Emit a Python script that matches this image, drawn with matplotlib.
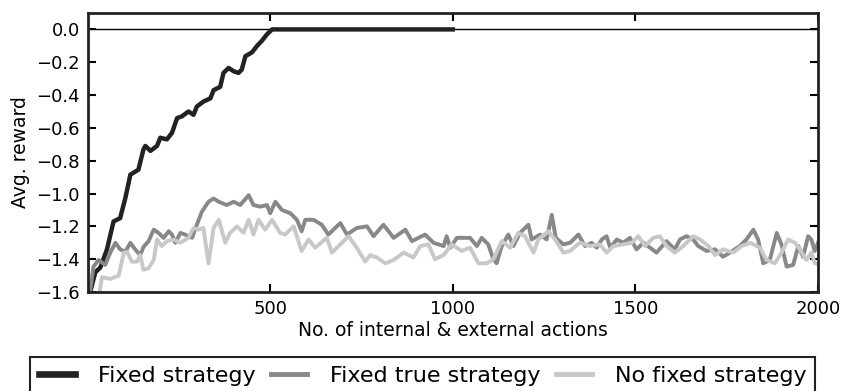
import matplotlib
matplotlib.use("Agg")
import matplotlib.pyplot as plt

# Fixed strategy (black), reaches 0 and stays there up to 1000
fixed_x = [7, 21, 35, 53, 71, 89, 103, 117, 139, 153, 158, 172, 190, 199, 217, 231,
           245, 258, 276, 290, 299, 317, 336, 345, 363, 372, 386, 400, 413, 422,
           432, 450, 464, 477, 491, 505, 520, 1000]
fixed_y = [-1.60, -1.48, -1.45, -1.34, -1.17, -1.15, -1.03, -0.885, -0.855, -0.73,
           -0.71, -0.74, -0.71, -0.66, -0.67, -0.63, -0.54, -0.53, -0.50, -0.52,
           -0.47, -0.44, -0.42, -0.37, -0.35, -0.265, -0.235, -0.255, -0.265, -0.245,
           -0.163, -0.14, -0.10, -0.07, -0.03, 0.0, 0.0, 0.0]

# Fixed true strategy (dark grey)
true_x = [7, 16, 30, 48, 62, 76, 89, 103, 117, 130, 144, 153, 167, 181, 194, 208,
          222, 231, 240, 254, 267, 286, 299, 313, 331, 345, 359, 381, 400, 418, 441,
          454, 473, 491, 500, 514, 532, 555, 573, 586, 596, 619, 641, 659, 692, 710,
          737, 765, 783, 810, 838, 870, 888, 924, 947, 975, 983, 993, 1011, 1047,
          1066, 1079, 1097, 1111, 1120, 1134, 1152, 1166, 1184, 1207, 1216, 1239,
          1257, 1271, 1282, 1303, 1321, 1344, 1362, 1380, 1394, 1408, 1421, 1431,
          1449, 1467, 1485, 1503, 1522, 1540, 1558, 1585, 1608, 1622, 1640, 1658,
          1672, 1695, 1718, 1740, 1759, 1786, 1804, 1823, 1836, 1850, 1868, 1887,
          1900, 1914, 1932, 1946, 1959, 1973, 1982, 1991, 2000]
true_y = [-1.59, -1.445, -1.405, -1.435, -1.36, -1.30, -1.34, -1.355, -1.30, -1.34,
          -1.375, -1.325, -1.29, -1.22, -1.24, -1.27, -1.23, -1.25, -1.30, -1.24,
          -1.25, -1.27, -1.19, -1.11, -1.05, -1.03, -1.05, -1.07, -1.05, -1.07,
          -1.01, -1.07, -1.08, -1.07, -1.12, -1.05, -1.10, -1.12, -1.16, -1.23,
          -1.16, -1.16, -1.19, -1.25, -1.18, -1.25, -1.21, -1.20, -1.26, -1.19,
          -1.27, -1.22, -1.29, -1.25, -1.30, -1.32, -1.26, -1.33, -1.27, -1.27,
          -1.32, -1.27, -1.31, -1.40, -1.425, -1.32, -1.25, -1.32, -1.24, -1.19,
          -1.28, -1.25, -1.28, -1.13, -1.27, -1.31, -1.30, -1.25, -1.32, -1.30,
          -1.33, -1.28, -1.26, -1.33, -1.28, -1.30, -1.27, -1.34, -1.30, -1.33,
          -1.36, -1.29, -1.34, -1.28, -1.26, -1.28, -1.32, -1.35, -1.34, -1.385,
          -1.36, -1.32, -1.28, -1.22, -1.28, -1.425, -1.405, -1.24, -1.31, -1.445,
          -1.435, -1.32, -1.385, -1.26, -1.28, -1.35, -1.30]

# No fixed strategy (light grey)
none_x = [33, 39, 62, 85, 99, 108, 121, 135, 144, 153, 167, 181, 190, 203, 217, 235,
          254, 276, 290, 304, 317, 331, 345, 359, 377, 390, 409, 427, 441, 454, 468,
          486, 505, 527, 541, 564, 586, 605, 623, 655, 669, 692, 714, 737, 760, 774,
          792, 815, 838, 865, 892, 911, 933, 951, 975, 997, 1024, 1047, 1070, 1093,
          1111, 1134, 1157, 1179, 1198, 1221, 1234, 1262, 1280, 1303, 1321, 1348,
          1376, 1403, 1421, 1440, 1467, 1490, 1508, 1526, 1549, 1567, 1585, 1608,
          1631, 1658, 1677, 1700, 1718, 1740, 1768, 1791, 1814, 1841, 1859, 1882,
          1900, 1918, 1937, 1950, 1968, 1982, 1991, 2000]
none_y = [-1.60, -1.51, -1.52, -1.50, -1.36, -1.355, -1.415, -1.415, -1.375, -1.465,
          -1.455, -1.405, -1.28, -1.32, -1.29, -1.28, -1.30, -1.27, -1.21, -1.22,
          -1.21, -1.425, -1.21, -1.16, -1.30, -1.24, -1.20, -1.24, -1.16, -1.25,
          -1.16, -1.22, -1.16, -1.24, -1.25, -1.20, -1.35, -1.28, -1.33, -1.27,
          -1.36, -1.31, -1.26, -1.33, -1.415, -1.375, -1.39, -1.425, -1.405, -1.36,
          -1.39, -1.32, -1.31, -1.40, -1.375, -1.31, -1.35, -1.33, -1.425, -1.425,
          -1.40, -1.29, -1.33, -1.24, -1.26, -1.36, -1.28, -1.23, -1.28, -1.36,
          -1.35, -1.30, -1.32, -1.31, -1.36, -1.32, -1.31, -1.30, -1.26, -1.32,
          -1.27, -1.26, -1.32, -1.36, -1.32, -1.26, -1.28, -1.32, -1.375, -1.34,
          -1.36, -1.32, -1.30, -1.33, -1.405, -1.425, -1.36, -1.28, -1.30, -1.34,
          -1.405, -1.36, -1.425, -1.43]

labels = ["Fixed strategy", "Fixed true strategy", "No fixed strategy"]
colors = ["#222222", "#888888", "#c8c8c8"]

fig = plt.figure(figsize=(8.45, 3.91), dpi=100)
ax = fig.add_axes([88 / 845, 1 - 292 / 391, 730 / 845, 279 / 391])

ax.axhline(0, color="black", lw=1)
ax.plot(fixed_x, fixed_y, color=colors[0], lw=3.2, label=labels[0])
ax.plot(true_x, true_y, color=colors[1], lw=2.8, label=labels[1])
ax.plot(none_x, none_y, color=colors[2], lw=2.8, label=labels[2])

ax.set_xlim(1, 2000)
ax.set_ylim(-1.6, 0.1)
ax.set_xticks([500, 1000, 1500, 2000])
ax.set_yticks([-1.6, -1.4, -1.2, -1.0, -0.8, -0.6, -0.4, -0.2, 0.0])
ax.tick_params(direction="in", length=6, width=1.5, labelsize=13,
               top=True, right=True, pad=6)
for s in ax.spines.values():
    s.set_linewidth(2)
    s.set_color("#222222")

ax.set_xlabel("No. of internal & external actions", fontsize=13.5, labelpad=2)
ax.set_ylabel("Avg. reward", fontsize=13.5)

leg = fig.legend(loc="upper center", bbox_to_anchor=(0.5, 1 - 357 / 391), ncol=3,
                 fontsize=16, handlelength=1.65, handletextpad=1.0,
                 columnspacing=0.7, fancybox=False, framealpha=1, borderaxespad=0)
leg.get_frame().set_edgecolor("#222222")
leg.get_frame().set_linewidth(1.5)
for h, w in zip(leg.legend_handles, [4.8, 3.5, 3.5]):
    h.set_linewidth(w)

fig.savefig("out.png", dpi=100)
